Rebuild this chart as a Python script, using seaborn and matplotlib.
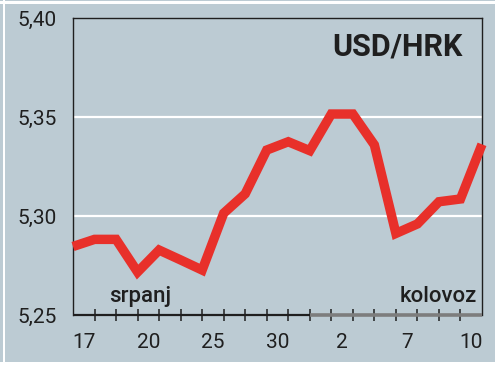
import numpy as np
import pandas as pd
import matplotlib
matplotlib.use("Agg")
import matplotlib.pyplot as plt
import seaborn as sns
from matplotlib import font_manager
from matplotlib.patches import Rectangle

# ---- data ----
days = ["16", "17", "18", "19", "20", "23", "24", "25", "26", "27",
        "30", "31", "1", "2", "3", "6", "7", "8", "9", "10"]
rates = [5.2846, 5.2882, 5.2882, 5.2717, 5.2828, 5.2778, 5.2727, 5.3014,
         5.3112, 5.3333, 5.3375, 5.3330, 5.3515, 5.3515, 5.3359, 5.2912,
         5.2960, 5.3072, 5.3086, 5.3362]
label_days = ["17", "20", "25", "30", "2", "7", "10"]
y_ticks = [5.25, 5.30, 5.35, 5.40]
y_tick_labels = ["5,25", "5,30", "5,35", "5,40"]
title = "USD/HRK"
month_labels = ["srpanj", "kolovoz"]
august_start = "1"

df = pd.DataFrame({"pos": np.arange(len(days)), "rate": rates, "day": days})

BG = "#bccbd3"
RED = "#e8302a"
DARK = "#1f1f1f"

sns.set_theme(style="white")
names = {f.name for f in font_manager.fontManager.ttflist}
title_family = ["Liberation Sans Narrow", "DejaVu Sans"] if "Liberation Sans Narrow" in names else ["Roboto", "DejaVu Sans"]
plt.rcParams["font.family"] = ["Roboto", "DejaVu Sans"]

fig = plt.figure(figsize=(4.95, 3.66), dpi=100, facecolor=BG)
W, H = 495, 366
ax = fig.add_axes([73 / W, 51 / H, 409 / W, 297 / H])
ax.set_facecolor(BG)

sns.lineplot(data=df, x="pos", y="rate", ax=ax, color=RED, linewidth=6.8,
             legend=False)
for ln in ax.lines:
    ln.set_solid_joinstyle("miter")
    ln.set_solid_capstyle("butt")
    ln.set_clip_on(False)
    ln.set_zorder(3)

n = len(days)
ax.set_xlim(0, n - 1)
ax.set_ylim(y_ticks[0], y_ticks[-1])

# grid
for yv in y_ticks[1:-1]:
    ax.axhline(yv, color="white", lw=1.6, zorder=1)

# y axis
ax.set_yticks(y_ticks)
ax.set_yticklabels(y_tick_labels)
ax.tick_params(axis="y", length=0, pad=11.5, labelsize=15, labelcolor=DARK)

# x axis: boundary ticks and day labels between them
ax.set_xticks(np.arange(1, n - 1))
ax.set_xticklabels([])
ax.tick_params(axis="x", which="major", bottom=True, direction="inout",
               length=8, width=1.1, color=DARK)
label_pos = [days.index(d) - 0.5 for d in label_days]
ax.set_xticks(label_pos, minor=True)
ax.set_xticklabels(label_days, minor=True)
ax.tick_params(axis="x", which="minor", bottom=True, length=0, pad=13,
               labelsize=15, labelcolor=DARK)
ax.set_xlabel("")
ax.set_ylabel("")

# spines
for s in ["left", "top", "right"]:
    ax.spines[s].set_visible(True)
    ax.spines[s].set_color(DARK)
    ax.spines[s].set_linewidth(1.0)
ax.spines["bottom"].set_visible(False)

split = days.index(august_start) - 1
ax.hlines(y_ticks[0], 0, split, color=DARK, lw=1.6, clip_on=False, zorder=4)
ax.hlines(y_ticks[0], split, n - 1, color="#7d7d7d", lw=2.6, clip_on=False,
          zorder=4)

# texts
ax.text(0.9535, 0.875, title, transform=ax.transAxes, ha="right",
        va="baseline", fontsize=22, fontweight="bold", color=DARK,
        family=title_family)
ax.text(0.164, 0.045, month_labels[0], transform=ax.transAxes, ha="center",
        va="baseline", fontsize=16, fontweight="medium", color=DARK)
ax.text(0.988, 0.044, month_labels[1], transform=ax.transAxes, ha="right",
        va="baseline", fontsize=16, fontweight="medium", color=DARK)

# white frame
fig.patches.append(Rectangle((0, 1 - 4 / H), 1, 3 / H, transform=fig.transFigure,
                             facecolor="white", edgecolor="none"))
fig.patches.append(Rectangle((0, 0), 1, 4 / H, transform=fig.transFigure,
                             facecolor="white", edgecolor="none"))
fig.patches.append(Rectangle((3 / W, 0), 2 / W, 1, transform=fig.transFigure,
                             facecolor="white", edgecolor="none"))

fig.savefig("out.png", dpi=100, facecolor=BG)
